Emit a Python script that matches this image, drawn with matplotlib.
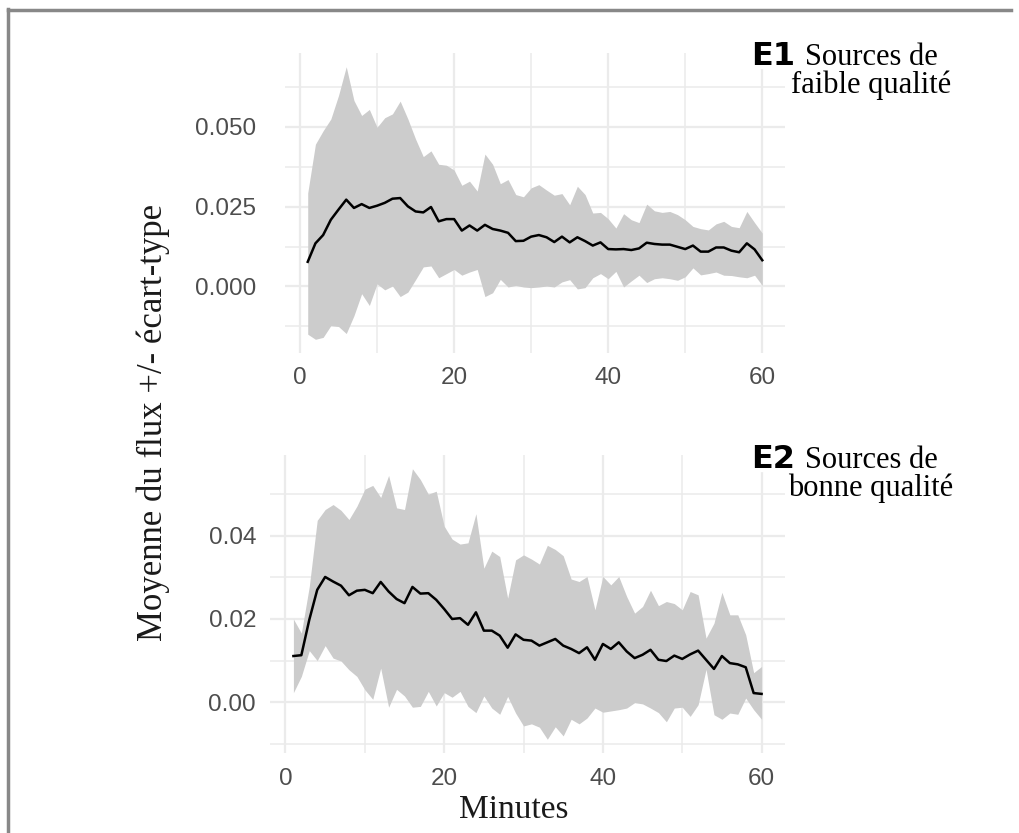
import numpy as np
import matplotlib
matplotlib.use("Agg")
import matplotlib.pyplot as plt
from matplotlib.lines import Line2D
from matplotlib.patches import Rectangle

minutes = list(range(1, 61))

# E1 : sources de faible qualité
mean_e1 = [0.0077, 0.0135, 0.0161, 0.0209, 0.0241, 0.0272, 0.0246, 0.0258, 0.0246, 0.0253,
           0.0262, 0.0275, 0.0277, 0.0251, 0.0235, 0.0232, 0.0249, 0.0204, 0.0211, 0.0211,
           0.0175, 0.0191, 0.0175, 0.0193, 0.0180, 0.0175, 0.0168, 0.0142, 0.0143, 0.0156,
           0.0161, 0.0154, 0.0139, 0.0156, 0.0138, 0.0154, 0.0142, 0.0128, 0.0138, 0.0117,
           0.0116, 0.0117, 0.0114, 0.0119, 0.0137, 0.0133, 0.0131, 0.0131, 0.0124, 0.0117,
           0.0128, 0.0109, 0.0109, 0.0122, 0.0122, 0.0112, 0.0107, 0.0135, 0.0116, 0.0082]
upper_e1 = [0.0293, 0.0446, 0.0488, 0.0525, 0.0599, 0.0689, 0.0583, 0.0536, 0.0555, 0.0499,
            0.0529, 0.0541, 0.0581, 0.0525, 0.0462, 0.0407, 0.0425, 0.0383, 0.0380, 0.0365,
            0.0317, 0.0330, 0.0299, 0.0415, 0.0383, 0.0322, 0.0335, 0.0288, 0.0281, 0.0309,
            0.0319, 0.0302, 0.0286, 0.0291, 0.0256, 0.0314, 0.0288, 0.0230, 0.0232, 0.0212,
            0.0183, 0.0228, 0.0209, 0.0200, 0.0258, 0.0237, 0.0232, 0.0235, 0.0225, 0.0209,
            0.0188, 0.0181, 0.0177, 0.0196, 0.0204, 0.0188, 0.0184, 0.0235, 0.0200, 0.0167]
lower_e1 = [-0.0150, -0.0166, -0.0160, -0.0123, -0.0126, -0.0148, -0.0092, -0.0023, -0.0060, 0.0008,
            -0.0011, 0.0001, -0.0032, -0.0018, 0.0021, 0.0061, 0.0064, 0.0027, 0.0040, 0.0053,
            0.0035, 0.0045, 0.0053, -0.0032, -0.0020, 0.0022, -0.0002, 0.0003, -0.0002, -0.0004,
            -0.0002, 0.0001, -0.0002, 0.0014, 0.0021, -0.0008, -0.0004, 0.0027, 0.0040, 0.0024,
            0.0047, -0.0002, 0.0017, 0.0035, 0.0012, 0.0024, 0.0027, 0.0024, 0.0019, 0.0030,
            0.0058, 0.0036, 0.0040, 0.0045, 0.0035, 0.0034, 0.0030, 0.0027, 0.0035, 0.0003]

# E2 : sources de bonne qualité
mean_e2 = [0.0111, 0.0113, 0.0198, 0.0270, 0.0301, 0.0290, 0.0280, 0.0257, 0.0268, 0.0270,
           0.0262, 0.0289, 0.0266, 0.0248, 0.0238, 0.0277, 0.0261, 0.0262, 0.0246, 0.0224,
           0.0200, 0.0202, 0.0186, 0.0216, 0.0172, 0.0172, 0.0160, 0.0131, 0.0163, 0.0150,
           0.0148, 0.0136, 0.0144, 0.0152, 0.0136, 0.0128, 0.0118, 0.0132, 0.0102, 0.0140,
           0.0128, 0.0144, 0.0122, 0.0106, 0.0114, 0.0126, 0.0102, 0.0099, 0.0112, 0.0104,
           0.0115, 0.0124, 0.0102, 0.0080, 0.0111, 0.0094, 0.0091, 0.0084, 0.0022, 0.0020]
upper_e2 = [0.0200, 0.0166, 0.0278, 0.0437, 0.0463, 0.0475, 0.0461, 0.0439, 0.0471, 0.0512,
            0.0521, 0.0492, 0.0545, 0.0467, 0.0463, 0.0561, 0.0535, 0.0500, 0.0507, 0.0423,
            0.0392, 0.0380, 0.0383, 0.0453, 0.0322, 0.0363, 0.0350, 0.0250, 0.0342, 0.0354,
            0.0344, 0.0332, 0.0377, 0.0367, 0.0352, 0.0296, 0.0290, 0.0302, 0.0222, 0.0302,
            0.0282, 0.0302, 0.0254, 0.0214, 0.0230, 0.0269, 0.0232, 0.0242, 0.0237, 0.0222,
            0.0266, 0.0258, 0.0154, 0.0190, 0.0264, 0.0210, 0.0210, 0.0162, 0.0071, 0.0086]
lower_e2 = [0.0023, 0.0062, 0.0124, 0.0100, 0.0136, 0.0106, 0.0099, 0.0078, 0.0062, 0.0030,
            0.0007, 0.0082, -0.0012, 0.0031, 0.0015, -0.0012, -0.0010, 0.0026, -0.0009, 0.0023,
            0.0012, 0.0026, -0.0010, -0.0025, 0.0015, -0.0014, -0.0029, 0.0014, -0.0026, -0.0057,
            -0.0052, -0.0060, -0.0089, -0.0059, -0.0081, -0.0041, -0.0052, -0.0038, -0.0014, -0.0024,
            -0.0021, -0.0018, -0.0014, -0.0001, -0.0004, -0.0014, -0.0025, -0.0047, -0.0014, -0.0012,
            -0.0034, -0.0006, 0.0079, -0.0030, -0.0041, -0.0026, -0.0029, 0.0010, -0.0018, -0.0041]

x_ticks = [0, 20, 40, 60]
x_minor = [10, 30, 50]
y_ticks_e1 = [0.0, 0.025, 0.050]
y_minor_e1 = [-0.0125, 0.0125, 0.0375, 0.0625]
y_ticks_e2 = [0.00, 0.02, 0.04]
y_minor_e2 = [-0.01, 0.01, 0.03, 0.05]

W, H = 1019, 833
fig = plt.figure(figsize=(W / 100, H / 100), dpi=100)


def px_axes(x0, y0, x1, y1):
    return fig.add_axes([x0 / W, 1 - y1 / H, (x1 - x0) / W, (y1 - y0) / H])


def style(ax, mean, upper, lower, yt, ym, fmt):
    ax.fill_between(minutes, lower, upper, color="#cccccc", lw=0, zorder=2)
    ax.plot(minutes, mean, color="black", lw=1.8, zorder=3)
    ax.set_xticks(x_ticks)
    ax.set_xticks(x_minor, minor=True)
    ax.set_yticks(yt)
    ax.set_yticks(ym, minor=True)
    ax.set_yticklabels([fmt.format(v) for v in yt])
    ax.grid(True, which="major", color="#ebebeb", lw=1.6, zorder=0)
    ax.grid(True, which="minor", color="#ebebeb", lw=1.1, zorder=0)
    ax.set_axisbelow(True)
    for s in ax.spines.values():
        s.set_visible(False)
    ax.tick_params(which="both", length=0, labelsize=17.5, labelcolor="#4d4d4d")
    for lab in ax.get_xticklabels() + ax.get_yticklabels():
        lab.set_family("Liberation Sans")
    ax.set_xlim(-1.95, 62.95)


ax1 = px_axes(285, 53, 785, 353)
ax2 = px_axes(270, 455, 785, 753)

style(ax1, mean_e1, upper_e1, lower_e1, y_ticks_e1, y_minor_e1, "{:.3f}")
style(ax2, mean_e2, upper_e2, lower_e2, y_ticks_e2, y_minor_e2, "{:.2f}")
ax1.set_ylim(-0.0209, 0.0732)
ax2.set_ylim(-0.0122, 0.0594)
ax1.tick_params(axis="y", pad=21)
ax2.tick_params(axis="y", pad=10)
ax1.tick_params(axis="x", pad=10)
ax2.tick_params(axis="x", pad=11)

# axis titles (serif, as in the original)
fig.text(153 / W, 1 - 422 / H, "Moyenne du flux +/- écart-type", rotation=90,
         ha="center", va="center", family="Liberation Serif", fontsize=25, color="#1a1a1a")
fig.text(514 / W, 1 - 810 / H, "Minutes", ha="center", va="center",
         family="Liberation Serif", fontsize=24, color="#1a1a1a")

# panel tags
for y_base, tag, line1, line2 in [(65, "E1", "Sources de", "faible qualité"),
                                   (468, "E2", "Sources de", "bonne qualité")]:
    fig.patches.append(Rectangle((745 / W, 1 - (y_base + 3) / H), 58 / W, 36 / H,
                                 transform=fig.transFigure, color="white", zorder=5))
    fig.text(751 / W, 1 - y_base / H, tag, ha="left", va="baseline", family="DejaVu Sans",
             fontweight="heavy", fontsize=23, color="black", zorder=6)
    fig.text(871 / W, 1 - y_base / H, line1, ha="center", va="baseline",
             family="Liberation Serif", fontsize=22, color="black", zorder=6)
    fig.text(871 / W, 1 - (y_base + 28) / H, line2, ha="center", va="baseline",
             family="Liberation Serif", fontsize=22, color="black", zorder=6)

# grey frame
fig.add_artist(Line2D([8 / W, 8 / W], [0, 1 - 9 / H], transform=fig.transFigure, color="#888888", lw=2.5))
fig.add_artist(Line2D([8 / W, 1011 / W], [1 - 10 / H, 1 - 10 / H], transform=fig.transFigure, color="#888888", lw=2.5))

fig.savefig("out.png", dpi=100)
